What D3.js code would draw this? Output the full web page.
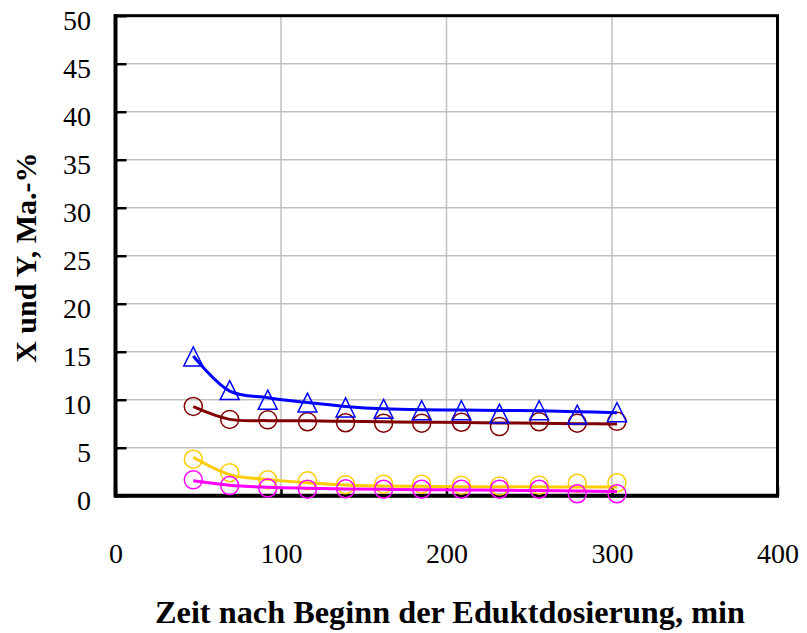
<!DOCTYPE html>
<html>
<head>
<meta charset="utf-8">
<script src="https://cdn.jsdelivr.net/npm/d3@7"></script>
<style>
    body { margin: 0; background: #fff; }
    svg text { font-family: "Liberation Serif", "Tinos", "Times New Roman", Times, serif; fill: #000; }
</style>
</head>
<body>
<div id="chart"></div>
<script>
// sample times (min)
const times = [47, 69, 92, 116, 139, 162, 185, 209, 232, 256, 279, 303];

// measured values (markers)
const blueMeas    = [14.5, 11.0, 10.0, 9.7, 9.2, 9.05, 8.9, 8.9, 8.55, 8.9, 8.45, 8.7];
const brownMeas   = [9.3, 7.95, 7.9, 7.7, 7.6, 7.55, 7.55, 7.65, 7.2, 7.7, 7.55, 7.75];
const yellowMeas  = [3.8, 2.4, 1.65, 1.55, 1.15, 1.2, 1.2, 1.1, 1.0, 1.1, 1.3, 1.35];
const magentaMeas = [1.65, 1.05, 0.8, 0.68, 0.72, 0.67, 0.67, 0.67, 0.67, 0.67, 0.2, 0.2];

// smoothed / model curves (lines)
const blueFit    = [14.55, 10.9, 10.2, 9.7, 9.3, 9.05, 8.95, 8.93, 8.88, 8.85, 8.75, 8.65];
const brownFit   = [9.27, 7.95, 7.82, 7.8, 7.75, 7.7, 7.66, 7.62, 7.58, 7.55, 7.5, 7.48];
const yellowFit  = [4.0, 2.2, 1.7, 1.35, 1.12, 1.0, 0.98, 0.94, 0.92, 0.92, 0.9, 0.9];
const magentaFit = [1.56, 1.1, 0.87, 0.77, 0.7, 0.66, 0.62, 0.6, 0.57, 0.53, 0.48, 0.44];

const xTicks = [0, 100, 200, 300, 400];
const yTicks = [0, 5, 10, 15, 20, 25, 30, 35, 40, 45, 50];

const series = [
    {meas: yellowMeas,  fit: yellowFit,  color: "#FFCC00", marker: "circle"},
    {meas: magentaMeas, fit: magentaFit, color: "#FF00FF", marker: "circle"},
    {meas: brownMeas,   fit: brownFit,   color: "#800000", marker: "circle"},
    {meas: blueMeas,    fit: blueFit,    color: "#0000FF", marker: "triangle"}
];

const W = 807, H = 633;
const margin = {top: 15.7, right: 29.5, bottom: 137.3, left: 115.5};
const width = W - margin.left - margin.right;
const height = H - margin.top - margin.bottom;

const svg = d3.select("#chart").append("svg")
    .attr("width", W)
    .attr("height", H);

const g = svg.append("g")
    .attr("transform", `translate(${margin.left},${margin.top})`);

// scales
const x = d3.scaleLinear().domain([0, 400]).range([0, width]);
const y = d3.scaleLinear().domain([0, 50]).range([height, 0]);

// grid lines
g.append("g").selectAll("line")
    .data(xTicks.slice(1, -1))
    .enter().append("line")
    .attr("x1", d => x(d)).attr("x2", d => x(d))
    .attr("y1", 0).attr("y2", height)
    .attr("stroke", "#c0c0c0").attr("stroke-width", 1.5);

g.append("g").selectAll("line")
    .data(yTicks.slice(1, -1))
    .enter().append("line")
    .attr("x1", 0).attr("x2", width)
    .attr("y1", d => y(d)).attr("y2", d => y(d))
    .attr("stroke", "#c0c0c0").attr("stroke-width", 1.5);

const line = d3.line()
    .x((d, i) => x(times[i]))
    .y(d => y(d))
    .curve(d3.curveCatmullRom.alpha(0.5));

const triSize = 19;
const triPath = `M0,${-triSize / 2}L${triSize / 2},${triSize / 2}L${-triSize / 2},${triSize / 2}Z`;

// frame (drawn below the data, markers may overlap it)
g.append("rect")
    .attr("x", 0).attr("y", 0)
    .attr("width", width).attr("height", height)
    .attr("fill", "none")
    .attr("stroke", "#000")
    .attr("stroke-width", 3);

g.append("line")
    .attr("x1", -1.5).attr("x2", width + 1.5)
    .attr("y1", height).attr("y2", height)
    .attr("stroke", "#000").attr("stroke-width", 4);

g.append("line")
    .attr("x1", 0).attr("x2", 0)
    .attr("y1", -1.5).attr("y2", height + 1.5)
    .attr("stroke", "#000").attr("stroke-width", 4);

// y axis: inward ticks
const yAxis = d3.axisLeft(y)
    .tickValues(yTicks)
    .tickSize(-11)
    .tickPadding(24.5)
    .tickFormat(d3.format("d"));

const yAxisG = g.append("g").call(yAxis);
yAxisG.select(".domain").remove();
yAxisG.selectAll(".tick line").attr("stroke", "#000").attr("stroke-width", 2.5);
yAxisG.selectAll(".tick text")
    .attr("font-size", "28px")
    .attr("dy", 14);

// x axis: inward ticks
const xAxis = d3.axisBottom(x)
    .tickValues(xTicks)
    .tickSize(-9)
    .tickPadding(47)
    .tickFormat(d3.format("d"));

const xAxisG = g.append("g")
    .attr("transform", `translate(0,${height})`)
    .call(xAxis);
xAxisG.select(".domain").remove();
xAxisG.selectAll(".tick line").attr("stroke", "#000").attr("stroke-width", 2.5);
xAxisG.selectAll(".tick text")
    .attr("font-size", "28px")
    .attr("dy", "0.71em");

// data
const dataG = g.append("g");

series.forEach(s => {
    // markers
    if (s.marker === "circle") {
        dataG.append("g").selectAll("circle")
            .data(s.meas)
            .enter().append("circle")
            .attr("cx", (d, i) => x(times[i]))
            .attr("cy", d => y(d))
            .attr("r", 9)
            .attr("fill", "none")
            .attr("stroke", s.color)
            .attr("stroke-width", 1.5);
    } else {
        dataG.append("g").selectAll("path")
            .data(s.meas)
            .enter().append("path")
            .attr("d", triPath)
            .attr("transform", (d, i) => `translate(${x(times[i])},${y(d)})`)
            .attr("fill", "none")
            .attr("stroke", s.color)
            .attr("stroke-width", 1.5);
    }
    // smooth line
    dataG.append("path")
        .datum(s.fit)
        .attr("d", line)
        .attr("fill", "none")
        .attr("stroke", s.color)
        .attr("stroke-width", 3);
});

// axis titles
svg.append("text")
    .attr("x", 155)
    .attr("y", 623)
    .attr("font-size", "31px")
    .attr("font-weight", "bold")
    .attr("textLength", 590)
    .attr("lengthAdjust", "spacingAndGlyphs")
    .text("Zeit nach Beginn der Eduktdosierung, min");

svg.append("text")
    .attr("transform", `translate(36, ${margin.top + height / 2 + 2}) rotate(-90)`)
    .attr("text-anchor", "middle")
    .attr("font-size", "30px")
    .attr("font-weight", "bold")
    .text("X und Y, Ma.-%");
</script>
</body>
</html>
